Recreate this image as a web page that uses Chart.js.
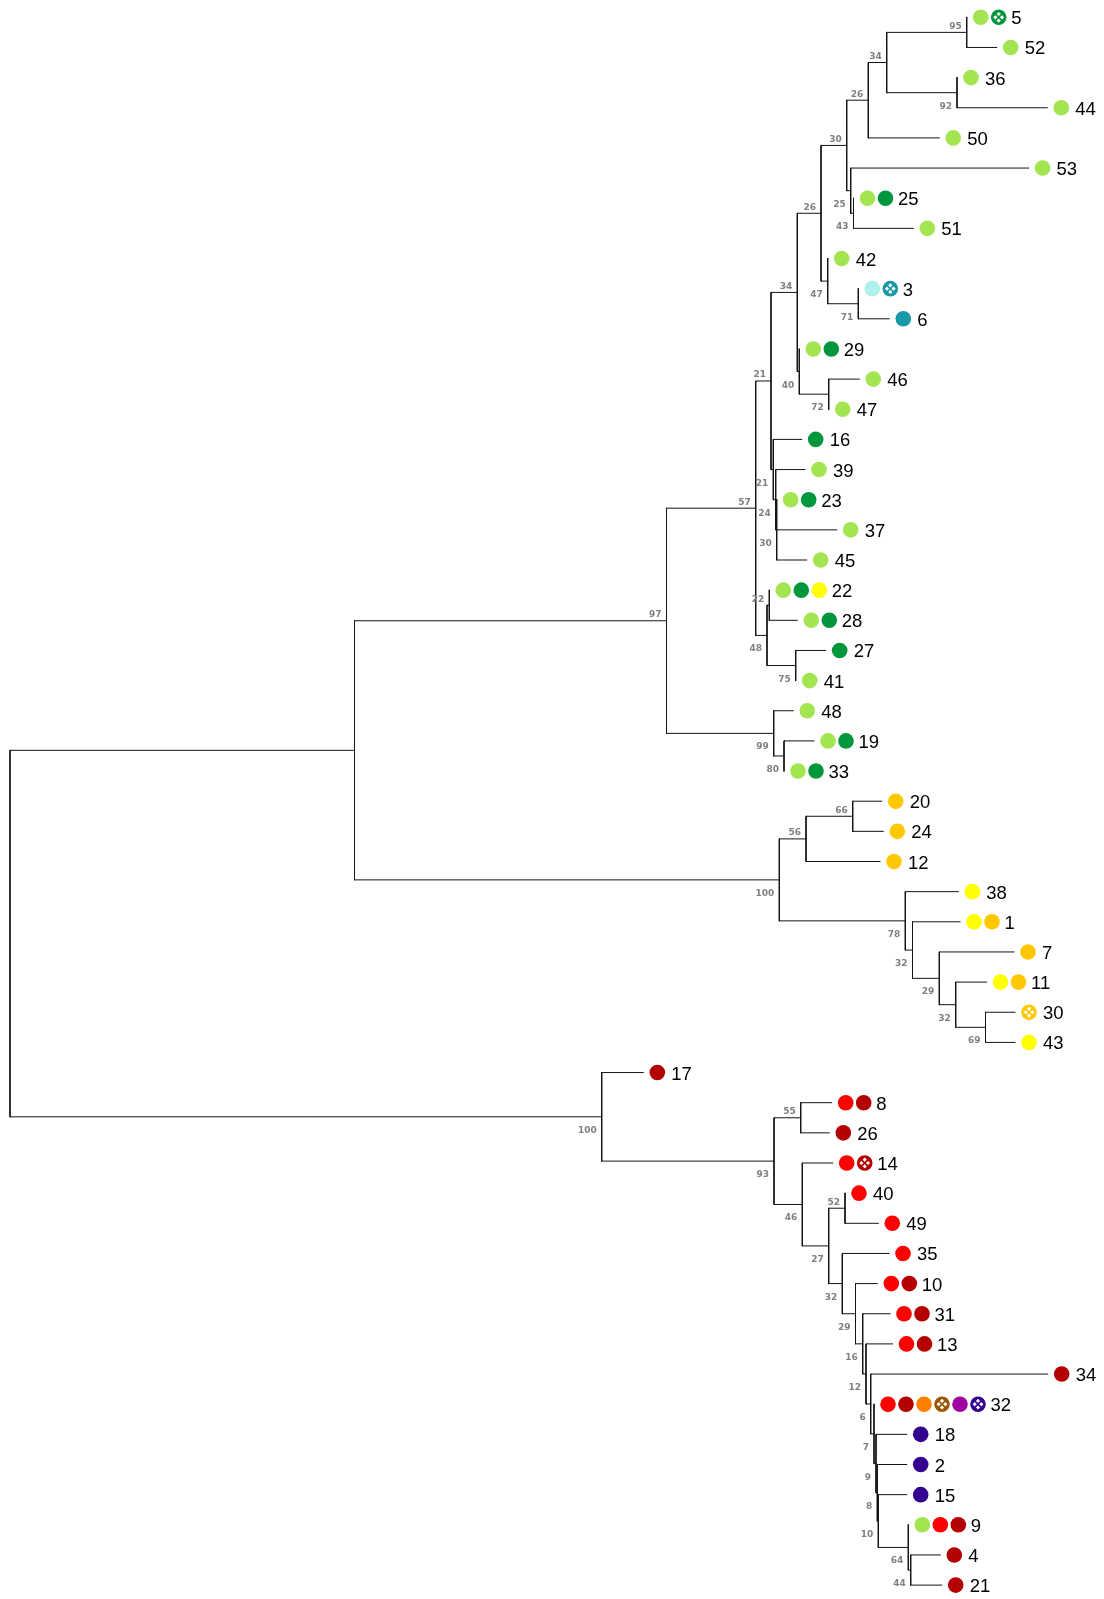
<!DOCTYPE html>
<html>
<head>
<meta charset="utf-8">
<script src="https://cdn.jsdelivr.net/npm/chart.js@4.4.1/dist/chart.umd.min.js"></script>
<style>
  html, body { margin: 0; padding: 0; background: #ffffff; }
  #wrap { position: relative; width: 1104px; height: 1599px; }
</style>
</head>
<body>
<div id="wrap"><canvas id="tree"></canvas></div>
<script>
// Tips, listed top to bottom
const tipLabels = ['5','52','36','44','50','53','25','51','42','3','6','29','46','47','16','39','23','37','45','22',
  '28','27','41','48','19','33','20','24','12','38','1','7','11','30','43','17','8','26','14','40',
  '49','35','10','31','13','34','32','18','2','15','9','4','21'];

// Internal node each tip hangs from
const tipParents = ['n95','n95','n92','n92','n26','n25','n43','n43','n47','n71','n71','n40','n72','n72','n21b','n24','n30c','n30c','n30c','n22',
  'n22','n75','n75','n99','n80','n80','n66','n66','n56','n78','n32y','n29y','n32y2','n69','n69','n100r','n55','n55','n46','n52',
  'n52','n32r','n29r','n16','n12','n6','n7','n9','n8','n10','n64','n44','n44'];

// Distance of each tip from the root
const tipDepths = [0.09567,0.09867,0.0947,0.10373,0.09293,0.10185,0.08435,0.09033,0.08177,0.08483,
  0.08793,0.07893,0.08493,0.08187,0.07917,0.0795,0.07667,0.08267,0.07967,0.07593,
  0.07873,0.08157,0.07857,0.07833,0.0804,0.0774,0.08717,0.08733,0.087,0.09483,
  0.095,0.1004,0.09765,0.1005,0.1005,0.06333,0.08217,0.08193,0.08227,0.0835,
  0.08683,0.0879,0.08673,0.088,0.08825,0.10377,0.0864,0.08967,0.08967,0.08967,
  0.08983,0.09303,0.09317];

// Groups recorded for each tip (a trailing * marks the hatched variant)
const tipGroups = [['lg','dg*'],['lg'],['lg'],['lg'],['lg'],['lg'],['lg','dg'],['lg'],['lg'],['cy','tl*'],
  ['tl'],['lg','dg'],['lg'],['lg'],['dg'],['lg'],['lg','dg'],['lg'],['lg'],['lg','dg','yl'],
  ['lg','dg'],['dg'],['lg'],['lg'],['lg','dg'],['lg','dg'],['gd'],['gd'],['gd'],['yl'],
  ['yl','gd'],['gd'],['yl','gd'],['gd*'],['yl'],['dr'],['rd','dr'],['dr'],['rd','dr*'],['rd'],
  ['rd'],['rd'],['rd','dr'],['rd','dr'],['rd','dr'],['dr'],['rd','dr','or','br*','pu','in*'],['in'],['in'],['in'],
  ['lg','rd','dr'],['dr'],['dr']];

// Internal nodes: id, parent, distance from root, bootstrap support
const nodeIds = ['root','nA','n97','n57','n21','n34b','n26b','n30','n26','n34','n95','n92','n25','n43','n47','n71','n40','n72','n21b','n24',
  'n30c','n48','n22','n75','n99','n80','n100y','n56','n66','n78','n32y','n29y','n32y2','n69','n100r','n93','n55','n46','n27','n52',
  'n32r','n29r','n16','n12','n6','n7','n9','n8','n10','n64','n44'];
const nodeParents = [null,'root','nA','n97','n57','n21','n34b','n26b','n30','n26','n34','n34','n30','n25','n26b','n47','n34b','n40','n21','n21b',
  'n24','n57','n48','n48','n97','n99','nA','n100y','n56','n100y','n78','n32y','n29y','n32y2','root','n100r','n93','n93','n46','n27',
  'n27','n32r','n29r','n16','n12','n6','n7','n9','n8','n10','n64'];
const nodeDepths = [0,0.03445,0.06565,0.07457,0.0761,0.07873,0.0811,0.08367,0.08583,0.08767,0.09567,0.0947,0.08407,0.08435,0.08177,0.08483,0.07893,0.08187,0.07633,0.07657,
  0.07667,0.0757,0.07593,0.07857,0.07637,0.0774,0.07693,0.0796,0.08427,0.08953,0.09025,0.09293,0.09457,0.09755,0.05917,0.0764,0.07907,0.07923,0.08187,0.0835,
  0.08323,0.08455,0.08527,0.0856,0.08607,0.0864,0.0866,0.08673,0.08683,0.08983,0.09007];
const nodeSupport = [null,null,97,57,21,34,26,30,26,34,95,92,25,43,47,71,40,72,21,24,
  30,48,22,75,99,80,100,56,66,78,32,29,32,69,100,93,55,46,27,52,
  32,29,16,12,6,7,9,8,10,64,44];

const groupColours = {
  lg: '#a3e550', dg: '#00963c', yl: '#ffff00', gd: '#ffc800',
  cy: '#aef0ea', tl: '#1a98a8', rd: '#ff0000', dr: '#b40000',
  or: '#ff8000', br: '#9a5600', pu: '#a000a0', in: '#330090'
};

// ---- tree layout: tips sit on rows 1..n, internal nodes midway between their children
const yOf = {}, depthOf = {}, kids = {}, parentOf = {};
tipLabels.forEach((t, i) => {
  const id = 'tip' + t;
  yOf[id] = i + 1;
  depthOf[id] = tipDepths[i];
  parentOf[id] = tipParents[i];
  (kids[tipParents[i]] = kids[tipParents[i]] || []).push(id);
});
nodeIds.forEach((n, i) => {
  depthOf[n] = nodeDepths[i];
  parentOf[n] = nodeParents[i];
  if (nodeParents[i]) (kids[nodeParents[i]] = kids[nodeParents[i]] || []).push(n);
});
function place(n) {
  if (yOf[n] !== undefined) return yOf[n];
  const ys = kids[n].map(place);
  yOf[n] = (Math.min(...ys) + Math.max(...ys)) / 2;
  return yOf[n];
}
place('root');

// branch segments, separated by gaps
const branchPoints = [];
Object.keys(depthOf).forEach(id => {
  const p = parentOf[id];
  if (p) {
    branchPoints.push({x: depthOf[p], y: yOf[id]}, {x: depthOf[id], y: yOf[id]}, {x: depthOf[id], y: null});
  }
  if (kids[id]) {
    const ys = kids[id].map(k => yOf[k]);
    branchPoints.push({x: depthOf[id], y: Math.min(...ys)}, {x: depthOf[id], y: Math.max(...ys)}, {x: depthOf[id], y: null});
  }
});

function drawDot(ctx, cx, cy, colour, hatched) {
  ctx.beginPath();
  ctx.arc(cx, cy, 7.8, 0, Math.PI * 2);
  ctx.fillStyle = colour;
  ctx.fill();
  if (hatched) {
    ctx.fillStyle = '#ffffff';
    [[0, -3.3], [3.3, 0], [0, 3.3], [-3.3, 0]].forEach(([dx, dy]) => {
      const x0 = cx + dx, y0 = cy + dy, s = 2.1;
      ctx.beginPath();
      ctx.moveTo(x0, y0 - s); ctx.lineTo(x0 + s, y0); ctx.lineTo(x0, y0 + s); ctx.lineTo(x0 - s, y0);
      ctx.closePath();
      ctx.fill();
    });
  }
}

const tipDecor = {
  id: 'tipDecor',
  afterDatasetsDraw(chart) {
    const {ctx, scales: {x, y}} = chart;
    ctx.save();
    // bootstrap values
    ctx.font = 'bold 9px "DejaVu Sans"';
    ctx.fillStyle = '#808080';
    ctx.textAlign = 'right';
    ctx.textBaseline = 'alphabetic';
    nodeIds.forEach((n, i) => {
      const s = nodeSupport[i];
      if (s === null) return;
      const px = x.getPixelForValue(depthOf[n]);
      const py = y.getPixelForValue(yOf[n]);
      const above = yOf[n] < yOf[nodeParents[i]];
      ctx.fillText(String(s), px - 5, above ? py - 3.5 : py + 16);
    });
    // tip dots and names
    ctx.font = '18.5px "Liberation Sans", Arial, sans-serif';
    ctx.textAlign = 'left';
    tipLabels.forEach((t, i) => {
      const px = x.getPixelForValue(tipDepths[i]);
      const py = y.getPixelForValue(i + 1);
      const groups = tipGroups[i];
      let cx = px + 14;
      groups.forEach((g, k) => {
        const hatched = g.endsWith('*');
        cx = px + 14 + 18 * k;
        drawDot(ctx, cx, py, groupColours[g.replace('*', '')], hatched);
      });
      ctx.fillStyle = '#000000';
      ctx.fillText(t, cx + (groups.length > 1 ? 12.5 : 14), py + 7);
    });
    ctx.restore();
  }
};

new Chart(document.getElementById('tree'), {
  type: 'line',
  data: {
    datasets: [{
      label: 'branches',
      data: branchPoints,
      borderColor: '#141414',
      borderWidth: 1,
      borderCapStyle: 'square',
      pointRadius: 0,
      spanGaps: false,
      tension: 0,
      fill: false
    }]
  },
  options: {
    responsive: true,
    maintainAspectRatio: false,
    animation: false,
    layout: { padding: 0 },
    plugins: { legend: { display: false }, tooltip: { enabled: false }, title: { display: false } },
    scales: {
      x: { type: 'linear', display: false, min: -0.001, max: 0.1094 },
      y: { type: 'linear', display: false, reverse: true, min: 0.426, max: 53.461 }
    }
  },
  plugins: [tipDecor]
});
</script>
</body>
</html>
